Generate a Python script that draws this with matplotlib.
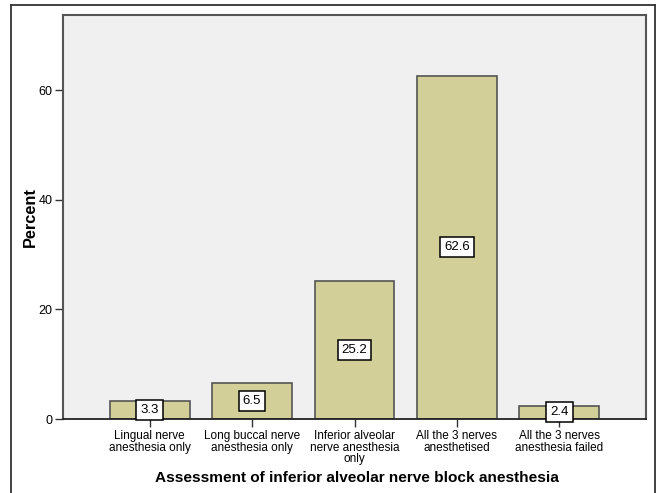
import matplotlib
matplotlib.use("Agg")
import matplotlib.pyplot as plt
from matplotlib.lines import Line2D

categories = [
    "Lingual nerve\nanesthesia only",
    "Long buccal nerve\nanesthesia only",
    "Inferior alveolar\nnerve anesthesia\nonly",
    "All the 3 nerves\nanesthetised",
    "All the 3 nerves\nanesthesia failed",
]
percents = [3.3, 6.5, 25.2, 62.6, 2.4]
y_ticks = [0, 20, 40, 60]

plt.rcParams["font.family"] = ["Liberation Sans", "DejaVu Sans"]

W, H = 657, 493
fig = plt.figure(figsize=(W / 100, H / 100), dpi=100)
fig.patch.set_facecolor("white")

# outer frame (left, top, right)
fx0, fx1, fy_top = 11 / W, 655 / W, 1 - 4.5 / H
for xs, ys in [([fx0, fx0], [0, fy_top]), ([fx0, fx1], [fy_top, fy_top]), ([fx1, fx1], [fy_top, 0])]:
    fig.add_artist(Line2D(xs, ys, transform=fig.transFigure, color="#333333", lw=1.3))

ax_left, ax_right, ax_top, ax_bottom = 63, 646, 15, 419
ax = fig.add_axes([ax_left / W, 1 - ax_bottom / H, (ax_right - ax_left) / W, (ax_bottom - ax_top) / H])
ax.set_facecolor("#f0f0f0")

x = list(range(len(categories)))
ax.bar(x, percents, width=0.78, color="#d3cf98", edgecolor="#555555", linewidth=1.2, zorder=2)

for xi, v in zip(x, percents):
    ax.text(xi, v / 2, f"{v}", ha="center", va="center", fontsize=9.5, zorder=4,
            bbox=dict(boxstyle="square,pad=0.3", facecolor="white", edgecolor="black", linewidth=1.1))

ax.set_xlim(-0.845, 4.845)
ax.set_ylim(0, 73.7)
ax.set_yticks(y_ticks)
ax.set_yticklabels([str(t) for t in y_ticks], fontsize=9)
ax.set_xticks(x)
ax.set_xticklabels(categories, fontsize=8.5, linespacing=0.95)
ax.tick_params(axis="y", direction="out", length=6, width=1, color="#333333", pad=1.5)
ax.tick_params(axis="x", direction="out", length=6, width=1, color="#333333", pad=2)

for side in ["left", "top", "right"]:
    ax.spines[side].set_color("#555555")
    ax.spines[side].set_linewidth(1.5)
ax.spines["bottom"].set_color("#222222")
ax.spines["bottom"].set_linewidth(1.3)

ax.set_ylabel("Percent", fontsize=11.8, fontweight="bold")
ax.set_xlabel("Assessment of inferior alveolar nerve block anesthesia", fontsize=11.1, fontweight="bold")
ax.xaxis.set_label_coords((357 - ax_left) / (ax_right - ax_left), -(471 - ax_bottom) / (ax_bottom - ax_top))
ax.yaxis.set_label_coords(-(63 - 38) / (ax_right - ax_left), 0.5)

fig.savefig("out.png", dpi=100)
